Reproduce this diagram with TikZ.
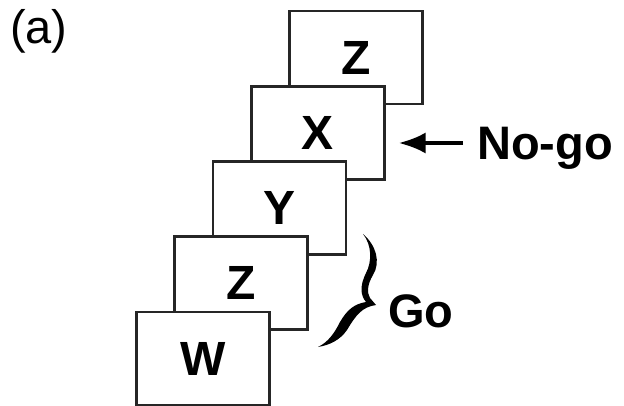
\documentclass[tikz,border=0pt]{standalone}
\usepackage{fontspec}
\setmainfont{Liberation Sans}
\usetikzlibrary{arrows.meta}
\begin{document}
\begin{tikzpicture}[x=1pt,y=-1pt,
  card/.style={draw=black!85, line width=2.6pt, fill=white,
    minimum width=133pt, minimum height=93pt, inner sep=0pt,
    font=\fontsize{48}{48}\selectfont\bfseries},
  tag/.style={inner sep=0pt, anchor=base west,
    font=\fontsize{47}{47}\selectfont\bfseries},
  pointer/.style={-{Latex[length=27pt,width=21pt]}, line width=4pt}]
\useasboundingbox (0,0) rectangle (624,406);

% panel label
\node[inner sep=0pt, anchor=base west, font=\fontsize{47}{47}\selectfont]
  (panel) at (10,44) {(a)};

% stack of stimulus cards, back to front
\node[card] (z1) at (356,57.5)      {Z};
\node[card] (x)  at (317.75,132.75) {X};
\node[card] (y)  at (279.5,208)     {Y};
\node[card] (z2) at (241.25,283.25) {Z};
\node[card] (w)  at (203,358.5)     {W};

% No-go label with arrow to the X card
\node[tag] (nogo) at (477,160) {No-go};
\coordinate (nogotip) at ([xshift=13pt,yshift=-10.25pt]x.east);
\draw[pointer] ([xshift=-14pt]nogo.west |- nogotip) -- (nogotip);

% Go label with a slanted calligraphic brace
\node[tag] (go) at (388,327) {Go};
\fill[black]
  (363,234) .. controls (376,245) and (381,262) .. (373,275)
  .. controls (367,285) and (367,293) .. (370,298) -- (376,305)
  .. controls (362,307) and (356,315) .. (347,330)
  .. controls (340,340) and (330,345) .. (318,347)
  .. controls (328,342) and (334,334) .. (340,322)
  .. controls (347,310) and (354,304) .. (366,302)
  .. controls (360,295) and (360,285) .. (366,273)
  .. controls (372,262) and (372,245) .. (363,234) -- cycle;
\end{tikzpicture}
\end{document}
